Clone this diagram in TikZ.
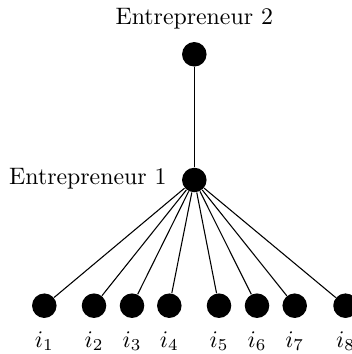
\documentclass[tikz,border=0pt]{standalone}
\begin{document}
\begin{tikzpicture}[x=0.42pt,y=-0.42pt,
  dot/.style={circle,fill=black,inner sep=0pt,minimum size=10.3pt},
  lbl/.style={inner sep=0pt,anchor=base},
  edge/.style={line width=0.45pt}]
\useasboundingbox (0,0) rectangle (351,354);
\node[dot] (e2) at (194.3,54.3) {};
\node[dot] (e1) at (194.3,180) {};
\node[lbl] (t2) at (194.3,25) {Entrepreneur 2};
\node[lbl,anchor=base east] (t1) at (167,185) {Entrepreneur 1};
\draw[edge] (e2) -- (e1);
\foreach \k/\x in {1/44.3,2/94,3/132,4/169.3,5/219,6/257,7/294.7,8/345.5}{
  \node[dot] (i\k) at (\x,305.7) {};
  \node[lbl] (l\k) at (\x,347) {$i_{\k}$};
  \draw[edge] (e1) -- (i\k);
}
\end{tikzpicture}
\end{document}
